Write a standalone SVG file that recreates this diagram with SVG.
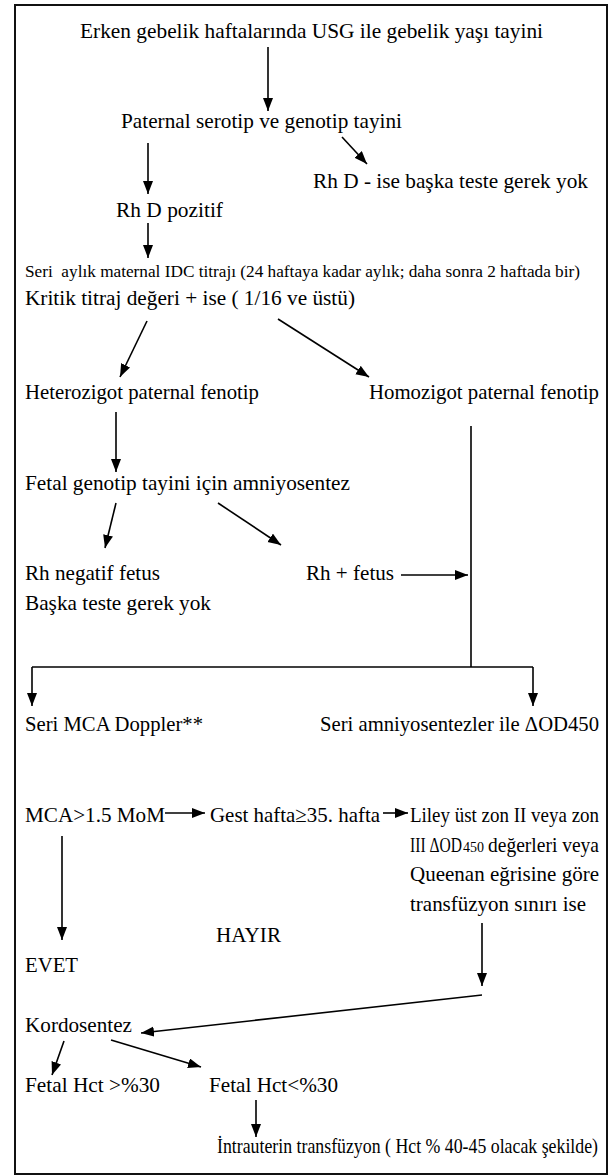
<svg xmlns="http://www.w3.org/2000/svg" width="610" height="1175" viewBox="0 0 610 1175">
<style>
.t{font-size:22px}
.m{font-size:20px}
.s{font-size:16px}
.c line,.c path{stroke:#000;stroke-width:1.6;fill:none}
.a{marker-end:url(#ah)}
</style>
<defs>
<marker id="ah" markerUnits="userSpaceOnUse" markerWidth="14" markerHeight="11" refX="13" refY="5" orient="auto">
<path d="M0,0 L13,5 L0,10 z" fill="#000"/>
</marker>
</defs>
<rect x="15" y="5" width="592" height="1169" fill="#fff" stroke="#111" stroke-width="2"/>
<g class="c" id="connectors">
<line class="a" x1="268" y1="47" x2="268" y2="111"/>
<line class="a" x1="148" y1="143" x2="148" y2="194"/>
<line class="a" x1="342" y1="137" x2="367" y2="164"/>
<line class="a" x1="148" y1="223" x2="148" y2="258"/>
<line class="a" x1="147" y1="321" x2="120" y2="377"/>
<line class="a" x1="278" y1="319" x2="369" y2="377"/>
<line class="a" x1="116" y1="412" x2="116" y2="472"/>
<line x1="471" y1="426" x2="471" y2="667"/>
<line class="a" x1="116" y1="503" x2="105" y2="548"/>
<line class="a" x1="218" y1="503" x2="281" y2="545"/>
<line class="a" x1="401" y1="575" x2="468" y2="575"/>
<path d="M32,667 H533"/>
<line class="a" x1="32" y1="667" x2="32" y2="706"/>
<line class="a" x1="533" y1="667" x2="533" y2="706"/>
<line class="a" x1="165" y1="813" x2="205" y2="813"/>
<line class="a" x1="383" y1="813" x2="408" y2="813"/>
<line class="a" x1="62" y1="836" x2="62" y2="940"/>
<line class="a" x1="482" y1="923" x2="482" y2="986"/>
<line class="a" x1="482" y1="995" x2="141" y2="1033"/>
<line class="a" x1="64" y1="1041" x2="52" y2="1075"/>
<line class="a" x1="111" y1="1040" x2="201" y2="1067"/>
<line class="a" x1="256" y1="1100" x2="256" y2="1137"/>
</g>
<g id="labels" font-family="'Liberation Serif', 'Times New Roman', serif" fill="#000">
<g id="n1"><text class="t" x="80" y="38" textLength="463" lengthAdjust="spacingAndGlyphs">Erken gebelik haftalarında USG ile gebelik yaşı tayini</text></g>
<g id="n2"><text class="t" x="121" y="128" textLength="281" lengthAdjust="spacingAndGlyphs">Paternal serotip ve genotip tayini</text></g>
<g id="n3"><text class="t" x="313" y="188" textLength="275" lengthAdjust="spacingAndGlyphs">Rh D - ise başka teste gerek yok</text></g>
<g id="n4"><text class="t" x="116" y="217" textLength="107" lengthAdjust="spacingAndGlyphs">Rh D pozitif</text></g>
<g id="n5"><text class="s" x="25" y="277" textLength="555" lengthAdjust="spacingAndGlyphs" xml:space="preserve">Seri  aylık maternal IDC titrajı (24 haftaya kadar aylık; daha sonra 2 haftada bir)</text>
<text class="m" x="25" y="305" textLength="330" lengthAdjust="spacingAndGlyphs">Kritik titraj değeri + ise ( 1/16 ve üstü)</text></g>
<g id="n6"><text class="t" x="25" y="399" textLength="234" lengthAdjust="spacingAndGlyphs">Heterozigot paternal fenotip</text></g>
<g id="n7"><text class="t" x="369" y="399" textLength="230" lengthAdjust="spacingAndGlyphs">Homozigot paternal fenotip</text></g>
<g id="n8"><text class="t" x="25" y="490" textLength="325" lengthAdjust="spacingAndGlyphs">Fetal genotip tayini için amniyosentez</text></g>
<g id="n9"><text class="t" x="25" y="580" textLength="135" lengthAdjust="spacingAndGlyphs">Rh negatif fetus</text>
<text class="t" x="25" y="610" textLength="186" lengthAdjust="spacingAndGlyphs">Başka teste gerek yok</text></g>
<g id="n10"><text class="t" x="306" y="580" textLength="88" lengthAdjust="spacingAndGlyphs">Rh + fetus</text></g>
<g id="n11"><text class="t" x="25" y="731" textLength="178" lengthAdjust="spacingAndGlyphs">Seri MCA Doppler**</text></g>
<g id="n12"><text class="t" x="320" y="731" textLength="279" lengthAdjust="spacingAndGlyphs">Seri amniyosentezler ile ΔOD450</text></g>
<g id="n13"><text class="t" x="25" y="822" textLength="140" lengthAdjust="spacingAndGlyphs">MCA&gt;1.5 MoM</text></g>
<g id="n14"><text class="t" x="210" y="822" textLength="170" lengthAdjust="spacingAndGlyphs">Gest hafta≥35. hafta</text></g>
<g id="n15"><text class="t" x="410" y="822" textLength="189" lengthAdjust="spacingAndGlyphs">Liley üst zon II veya zon</text>
<text class="t" x="410" y="852" textLength="52" lengthAdjust="spacingAndGlyphs">III ΔOD</text>
<text x="463" y="852" font-size="14" textLength="21" lengthAdjust="spacingAndGlyphs">450</text>
<text class="t" x="488" y="852" textLength="111" lengthAdjust="spacingAndGlyphs">değerleri veya</text>
<text class="t" x="410" y="881" textLength="189" lengthAdjust="spacingAndGlyphs">Queenan eğrisine göre</text>
<text class="t" x="410" y="911" textLength="176" lengthAdjust="spacingAndGlyphs">transfüzyon sınırı ise</text></g>
<g id="n16"><text class="t" x="216" y="942" textLength="65" lengthAdjust="spacingAndGlyphs">HAYIR</text></g>
<g id="n17"><text class="t" x="25" y="972" textLength="53" lengthAdjust="spacingAndGlyphs">EVET</text></g>
<g id="n18"><text class="t" x="25" y="1032" textLength="107" lengthAdjust="spacingAndGlyphs">Kordosentez</text></g>
<g id="n19"><text class="t" x="25" y="1092" textLength="135" lengthAdjust="spacingAndGlyphs">Fetal Hct &gt;%30</text></g>
<g id="n20"><text class="t" x="209" y="1092" textLength="129" lengthAdjust="spacingAndGlyphs">Fetal Hct&lt;%30</text></g>
<g id="n21"><text x="217" y="1153" font-size="21" textLength="381" lengthAdjust="spacingAndGlyphs">İntrauterin transfüzyon ( Hct % 40-45 olacak şekilde)</text></g>
</g>
</svg>
